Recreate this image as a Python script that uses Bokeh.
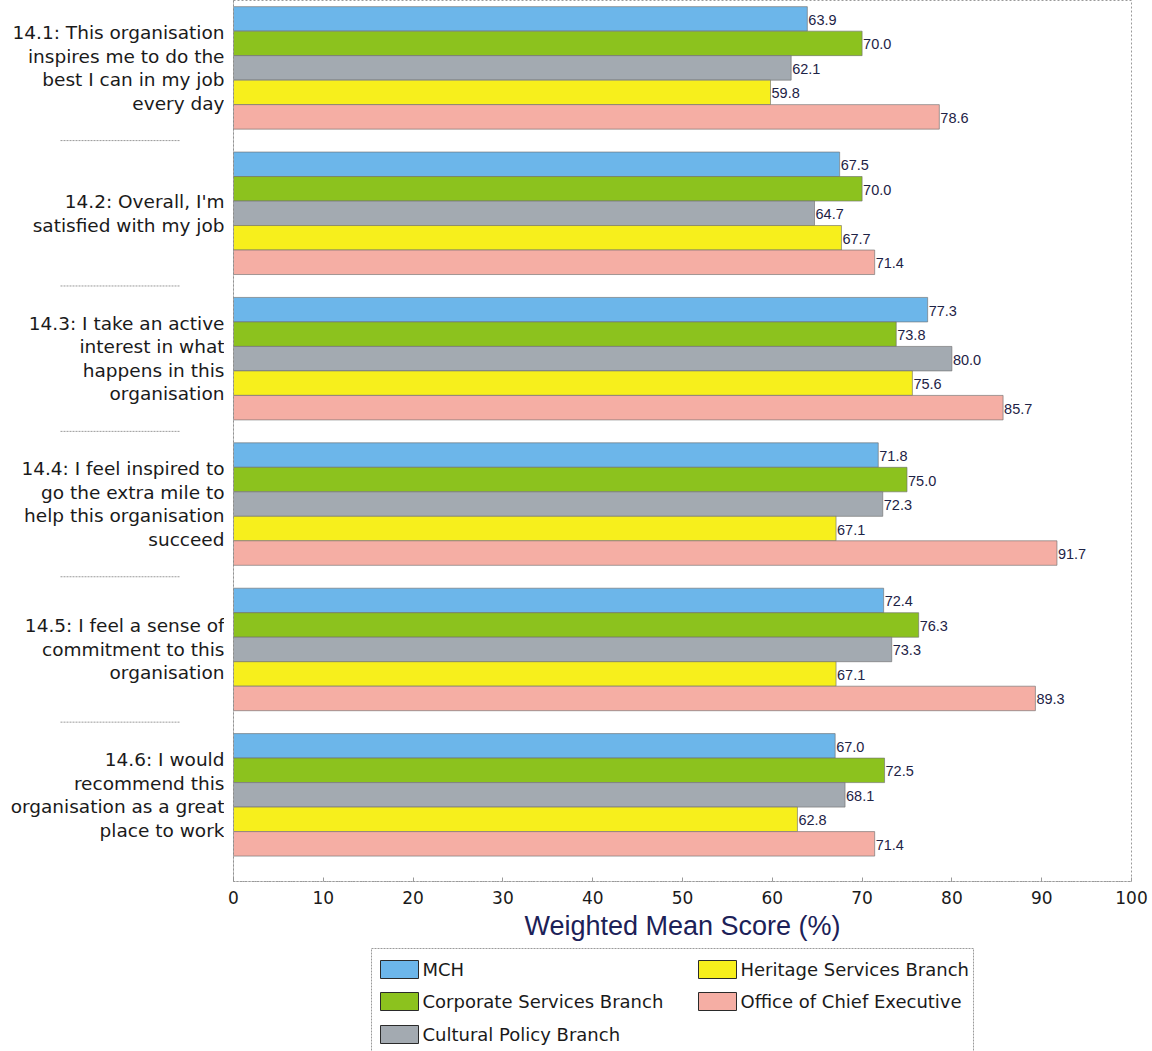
from bokeh.plotting import figure
from bokeh.layouts import row, column
from bokeh.models import Range1d, FixedTicker, ColumnDataSource, Span
from bokeh.core.properties import value
from bokeh.embed import file_html
from bokeh.resources import INLINE

# Survey statements (drawn top to bottom)
questions = [
    "14.1: This organisation\ninspires me to do the\nbest I can in my job\nevery day",
    "14.2: Overall, I'm\nsatisfied with my job",
    "14.3: I take an active\ninterest in what\nhappens in this\norganisation",
    "14.4: I feel inspired to\ngo the extra mile to\nhelp this organisation\nsucceed",
    "14.5: I feel a sense of\ncommitment to this\norganisation",
    "14.6: I would\nrecommend this\norganisation as a great\nplace to work",
]

series_names = [
    "MCH",
    "Corporate Services Branch",
    "Cultural Policy Branch",
    "Heritage Services Branch",
    "Office of Chief Executive",
]

mch = [63.9, 67.5, 77.3, 71.8, 72.4, 67.0]
corporate = [70.0, 70.0, 73.8, 75.0, 76.3, 72.5]
cultural = [62.1, 64.7, 80.0, 72.3, 73.3, 68.1]
heritage = [59.8, 67.7, 75.6, 67.1, 67.1, 62.8]
chief_exec = [78.6, 71.4, 85.7, 91.7, 89.3, 71.4]

series_values = [mch, corporate, cultural, heritage, chief_exec]
colors = ["#6cb6ea", "#8cc21e", "#a3aab1", "#f7ef1c", "#f5aea4"]

x_ticks = [0, 10, 20, 30, 40, 50, 60, 70, 80, 90, 100]

FONT = "DejaVu Sans"
BAR_H = 0.1685
LABEL_W = 224

y_range = Range1d(start=5.596, end=-0.4635)

# ---- main bar chart ----
p = figure(
    frame_width=898, frame_height=881,
    x_range=Range1d(0, 100), y_range=y_range,
    output_backend="svg", toolbar_location=None,
    y_axis_location=None,
    min_border_left=233 - LABEL_W, min_border_right=21,
    min_border_top=0, min_border_bottom=64,
)
p.xgrid.visible = False
p.ygrid.visible = False
p.outline_line_color = "#9a9a9a"
p.outline_line_dash = "2 2"
p.background_fill_color = "white"
p.border_fill_color = "white"

for k, (name, vals, col) in enumerate(zip(series_names, series_values, colors)):
    ys = [i + (k - 2) * BAR_H for i in range(len(vals))]
    src = ColumnDataSource(dict(
        y=ys, right=vals, left=[0] * len(vals),
        label=["%.1f" % v for v in vals],
    ))
    p.hbar(y="y", left="left", right="right", height=BAR_H, source=src,
           fill_color=col, line_color="#6f6f6f", line_width=0.8, line_alpha=0.8)
    p.text(x="right", y="y", text="label", source=src, x_offset=1, y_offset=1,
           text_font=value("Liberation Sans"), text_font_size="14.5px",
           text_color="#1e2346", text_baseline="middle", text_align="left")

p.add_layout(Span(location=0, dimension="height", line_color="#8a8a8a", line_width=1))

ax = p.xaxis[0]
ax.ticker = FixedTicker(ticks=x_ticks)
ax.major_label_text_font = FONT
ax.major_label_text_font_size = "17px"
ax.major_label_text_color = "#1a1a1a"
ax.major_label_standoff = 9
ax.major_tick_out = 0
ax.major_tick_in = 4
ax.major_tick_line_color = "#9a9a9a"
ax.minor_tick_line_color = None
ax.axis_line_color = "#9a9a9a"
ax.axis_line_dash = "2 1"
ax.axis_label = "Weighted Mean Score (%)"
ax.axis_label_text_font = "Liberation Sans"
ax.axis_label_text_font_size = "27px"
ax.axis_label_text_font_style = "normal"
ax.axis_label_text_color = "#1c2158"
ax.axis_label_standoff = 4

# ---- statement labels on the left ----
lf = figure(
    frame_width=LABEL_W, frame_height=881,
    x_range=Range1d(0, LABEL_W), y_range=y_range,
    output_backend="svg", toolbar_location=None,
    x_axis_location=None, y_axis_location=None,
    min_border_left=0, min_border_right=0, min_border_top=0, min_border_bottom=0,
)
lf.xgrid.visible = False
lf.ygrid.visible = False
lf.outline_line_color = None
lf.text(x=[LABEL_W] * len(questions), y=list(range(len(questions))), text=questions,
        text_font=value(FONT), text_font_size="18.5px", text_color="#1a1a1a",
        text_align="right", text_baseline="middle", text_line_height=1.12)
sep_y = [i + 0.5 for i in range(len(questions) - 1)]
lf.segment(x0=[60] * len(sep_y), x1=[180] * len(sep_y), y0=sep_y, y1=sep_y,
           line_color="#9a9a9a", line_width=1, line_dash="2 1")

# ---- legend panel ----
lg = figure(
    width=1152, height=106,
    x_range=Range1d(0, 1152), y_range=Range1d(1051, 945),
    output_backend="svg", toolbar_location=None,
    x_axis_location=None, y_axis_location=None,
    min_border_left=0, min_border_right=0, min_border_top=0, min_border_bottom=0,
)
lg.xgrid.visible = False
lg.ygrid.visible = False
lg.outline_line_color = None
lg.quad(left=[371], right=[973], top=[948], bottom=[1060],
        fill_color="white", line_color="#9a9a9a", line_width=1, line_dash="2 1")

legend_cols = [380, 380, 380, 698, 698]
legend_rows = [969, 1001, 1034, 969, 1001]
lg.quad(left=legend_cols, right=[c + 38 for c in legend_cols],
        top=[r - 9 for r in legend_rows], bottom=[r + 9 for r in legend_rows],
        fill_color=colors, line_color="#2a2a2a", line_width=1)
lg.text(x=[c + 42 for c in legend_cols], y=legend_rows, text=series_names,
        text_font=value(FONT), text_font_size="18px", text_color="#1a1a1a",
        text_align="left", text_baseline="middle")

layout = column(row(lf, p, spacing=0), lg, spacing=0)

open("out.html", "w").write(file_html(layout, INLINE))
